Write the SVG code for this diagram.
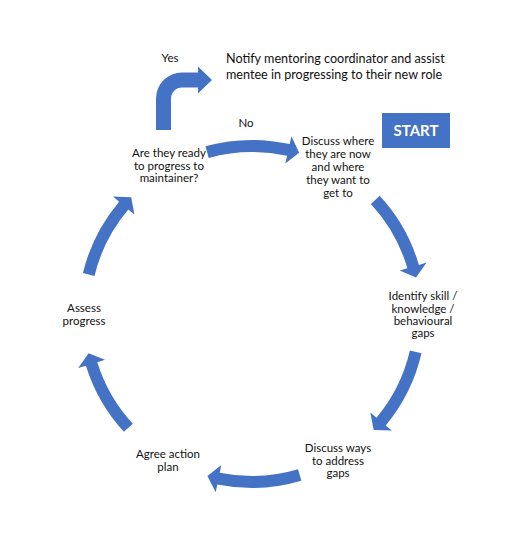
<svg xmlns="http://www.w3.org/2000/svg" width="510" height="542" viewBox="0 0 510 542">
<style>
.t{font-family:Lato,"Liberation Sans",Arial,sans-serif;font-size:11.5px;fill:#111;text-anchor:middle}
.n{font-family:Lato,"Liberation Sans",Arial,sans-serif;font-size:12.6px;fill:#111}
.arr{fill:#4472C4;stroke:none}
.st{font-family:Lato,"Liberation Sans",Arial,sans-serif;font-size:15px;font-weight:bold;fill:#fff;text-anchor:middle}
</style>
<rect width="510" height="542" fill="#fff"/>
<g id="connectors">
<path class="arr" d="M205.5,146.3 A174,174 0 0 1 289.7,144.1 L291.4,136.3 L299.2,152.8 L285.3,163.6 L287.1,155.8 A162,162 0 0 0 208.7,157.9 Z"/>
<path class="arr" d="M379.7,195.8 A174,174 0 0 1 418.9,264.9 L426.6,262.6 L416.0,277.4 L399.7,270.5 L407.4,268.3 A162,162 0 0 0 370.9,203.9 Z"/>
<path class="arr" d="M421.5,353.2 A174,174 0 0 1 385.7,425.4 L391.8,430.5 L373.7,429.9 L370.3,412.6 L376.5,417.7 A162,162 0 0 0 409.9,350.5 Z"/>
<path class="arr" d="M301.4,480.8 A174,174 0 0 1 217.3,484.5 L215.7,492.3 L207.4,476.0 L221.3,464.9 L219.7,472.7 A162,162 0 0 0 298.0,469.3 Z"/>
<path class="arr" d="M123.9,431.8 A174,174 0 0 1 85.9,365.7 L78.2,368.1 L88.6,353.2 L105.0,359.8 L97.3,362.2 A162,162 0 0 0 132.8,423.7 Z"/>
<path class="arr" d="M82.9,273.1 A174,174 0 0 1 119.1,201.7 L113.0,196.5 L131.2,197.3 L134.4,214.6 L128.3,209.4 A162,162 0 0 0 94.5,275.9 Z"/>
<path class="arr" d="M156,130 L156,98.5 A26,26 0 0 1 182,72.5 L198,72.5 L198,66.5 L212,80 L198,93.5 L198,87.5 L182,87.5 A11,11 0 0 0 171,98.5 L171,130 Z"/>
<text class="t" x="170" y="62">Yes</text>
<text class="t" x="246" y="127">No</text>
</g>
<g id="node-start">
<rect x="382" y="113" width="68" height="35" fill="#4472C4"/>
<text class="st" x="416" y="136">START</text>
</g>
<g id="node-notify">
<text class="n" x="226" y="63">Notify mentoring coordinator and assist</text>
<text class="n" x="226" y="78.5">mentee in progressing to their new role</text>
</g>
<g id="node-discuss-where">
<text class="t" x="338" y="145">Discuss where</text>
<text class="t" x="338" y="158">they are now</text>
<text class="t" x="338" y="171">and where</text>
<text class="t" x="338" y="184">they want to</text>
<text class="t" x="338" y="197">get to</text>
</g>
<g id="node-identify">
<text class="t" x="423" y="300">Identify skill /</text>
<text class="t" x="423" y="312.5">knowledge /</text>
<text class="t" x="423" y="325">behavioural</text>
<text class="t" x="423" y="337">gaps</text>
</g>
<g id="node-discuss-ways">
<text class="t" x="338" y="452">Discuss ways</text>
<text class="t" x="338" y="464.5">to address</text>
<text class="t" x="338" y="477">gaps</text>
</g>
<g id="node-agree">
<text class="t" x="168" y="458">Agree action</text>
<text class="t" x="168" y="470.5">plan</text>
</g>
<g id="node-assess">
<text class="t" x="84" y="312">Assess</text>
<text class="t" x="84" y="324.5">progress</text>
</g>
<g id="node-ready">
<text class="t" x="169" y="157">Are they ready</text>
<text class="t" x="169" y="169.5">to progress to</text>
<text class="t" x="169" y="182">maintainer?</text>
</g>
</svg>
